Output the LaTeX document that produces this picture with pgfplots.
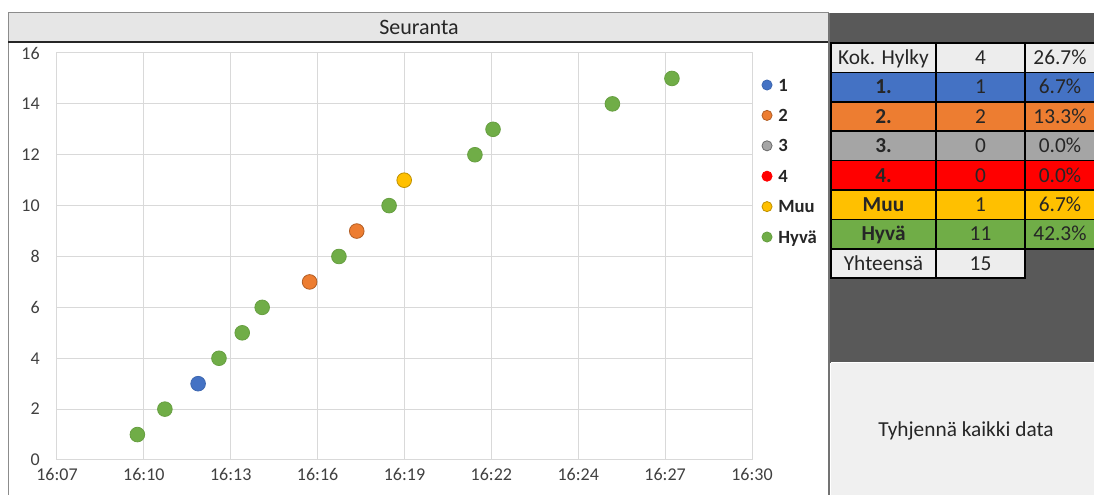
\documentclass[border=0pt]{standalone}
\usepackage{fontspec}
\setmainfont{Carlito}
\usepackage{pgfplots}
\pgfplotsset{compat=1.18}
\definecolor{cblue}{HTML}{4472C4}
\definecolor{corange}{HTML}{ED7D31}
\definecolor{cgray}{HTML}{A5A5A5}
\definecolor{cred}{HTML}{FF0000}
\definecolor{cyellow}{HTML}{FFC000}
\definecolor{cgreen}{HTML}{70AD47}
\definecolor{gridc}{HTML}{D9D9D9}
\definecolor{panel}{HTML}{595959}
\definecolor{cellgray}{HTML}{EDEDED}
\definecolor{titlebg}{HTML}{E6E6E6}
\definecolor{btn}{HTML}{F0F0F0}
\definecolor{txt}{HTML}{262626}
\definecolor{ticktxt}{HTML}{404040}
\begin{document}
\begin{tikzpicture}[x=0.75pt,y=0.75pt]
\useasboundingbox (0,0) rectangle (1094,495);
% chart frame and title bar
\fill[white] (8,0) rectangle (829,482);
\fill[titlebg] (8,453) rectangle (829,482);
\draw[black!45, line width=0.75pt] (8,0) -- (8,482) -- (829,482);
\draw[black!85, line width=1pt] (8,453) -- (829,453);
\node[font=\fontsize{16.5}{19}\selectfont, text=txt, anchor=base] at (419,460) {Seuranta};
% right panel
\fill[panel] (829,132) rectangle (1094,482);
\fill[btn] (831,0) rectangle (1094,132);
\draw[white, line width=0.75pt] (831,132) -- (1094,132);
\draw[black!55, line width=1pt] (829,0) -- (829,482);
\node[font=\fontsize{16}{19}\selectfont, text=txt, anchor=base] at (966,58) {Tyhjennä kaikki data};
% table
\foreach \i/\fc/\lab/\val/\pct in {0/cellgray/{Kok. Hylky}/4/{26.7\%},
  1/cblue/{\textbf{1.}}/1/{6.7\%},
  2/corange/{\textbf{2.}}/2/{13.3\%},
  3/cgray/{\textbf{3.}}/0/{0.0\%},
  4/cred/{\textbf{4.}}/0/{0.0\%},
  5/cyellow/{\textbf{Muu}}/1/{6.7\%},
  6/cgreen/{\textbf{Hyvä}}/11/{42.3\%}}{
  \pgfmathsetmacro{\yt}{452-29.4*\i}
  \pgfmathsetmacro{\yb}{\yt-29.4}
  \pgfmathsetmacro{\ybase}{\yt-14.7-6.9}
  \filldraw[fill=\fc, draw=black, line width=1.1pt] (831,\yt) rectangle (936,\yb);
  \filldraw[fill=\fc, draw=black, line width=1.1pt] (936,\yt) rectangle (1025,\yb);
  \filldraw[fill=\fc, draw=black, line width=1.1pt] (1025,\yt) rectangle (1096,\yb);
  \node[font=\fontsize{16}{19}\selectfont, text=txt, anchor=base] at (883.5,\ybase) {\lab};
  \node[font=\fontsize{16}{19}\selectfont, text=txt, anchor=base] at (980.5,\ybase) {\val};
  \node[font=\fontsize{16}{19}\selectfont, text=txt, anchor=base] at (1060,\ybase) {\pct};
}
\filldraw[fill=cellgray, draw=black, line width=1.1pt] (831,246.2) rectangle (936,216.8);
\filldraw[fill=cellgray, draw=black, line width=1.1pt] (936,246.2) rectangle (1025,216.8);
\node[font=\fontsize{16}{19}\selectfont, text=txt, anchor=base] at (883.5,224.6) {Yhteensä};
\node[font=\fontsize{16}{19}\selectfont, text=txt, anchor=base] at (980.5,224.6) {15};
% chart
\coordinate (axSW) at (57,35);
\begin{axis}[
  at={(axSW)}, anchor=south west, scale only axis,
  width=521.25pt, height=305.25pt,
  xmin=7, xmax=30, ymin=0, ymax=16,
  xtick={7,9.875,12.75,15.625,18.5,21.375,24.25,27.125,30},
  xticklabels={16:07,16:10,16:13,16:16,16:19,16:22,16:24,16:27,16:30},
  ytick={0,2,4,6,8,10,12,14,16},
  grid=major, grid style={gridc, line width=0.75pt},
  axis line style={gridc, line width=0.75pt},
  major tick length=0pt,
  /pgf/number format/assume math mode=true,
  tick label style={font=\fontsize{13.5}{15}\selectfont, text=ticktxt},
  yticklabel style={anchor=east, inner sep=0pt, xshift=-12.75pt},
  xticklabel style={anchor=base, inner sep=0pt, yshift=-15.75pt},
  legend cell align=left,
  legend style={at={(axis description cs:1.0053,0.9587)}, anchor=north west,
    draw=none, fill=none, inner sep=0pt, outer sep=0pt,
    font=\fontsize{14}{16}\selectfont\bfseries, text=txt, row sep=0pt,
    nodes={inner sep=0pt, text height=16pt, text depth=6.8pt}},
  legend image code/.code={\path[draw=none,fill=none] (0pt,-4pt) rectangle (17pt,4pt);
    \draw[#1,mark size=3.8pt] plot coordinates {(8.5pt,0pt)};},
]
\addplot[only marks, mark=*, mark size=5.5pt, mark options={fill=cblue, draw=cblue!90!black, line width=0.6pt}]
  coordinates {(11.67,3)};
\addlegendentry{1}
\addplot[only marks, mark=*, mark size=5.5pt, mark options={fill=corange, draw=corange!75!black, line width=0.6pt}]
  coordinates {(15.36,7) (16.92,9)};
\addlegendentry{2}
\addlegendimage{only marks, mark=*, mark options={fill=cgray, draw=cgray!65!black, line width=0.6pt}}
\addlegendentry{3}
\addlegendimage{only marks, mark=*, mark options={fill=cred, draw=cred, line width=0.6pt}}
\addlegendentry{4}
\addplot[only marks, mark=*, mark size=5.5pt, mark options={fill=cyellow, draw=cyellow!75!black, line width=0.6pt}]
  coordinates {(18.49,11)};
\addlegendentry{Muu}
\addplot[only marks, mark=*, mark size=5.5pt, mark options={fill=cgreen, draw=cgreen!92!black, line width=0.6pt}]
  coordinates {(9.66,1) (10.57,2) (12.36,4) (13.13,5) (13.79,6) (16.33,8) (17.99,10) (20.83,12) (21.43,13) (25.38,14) (27.35,15)};
\addlegendentry{Hyvä}
\end{axis}
\end{tikzpicture}
\end{document}
